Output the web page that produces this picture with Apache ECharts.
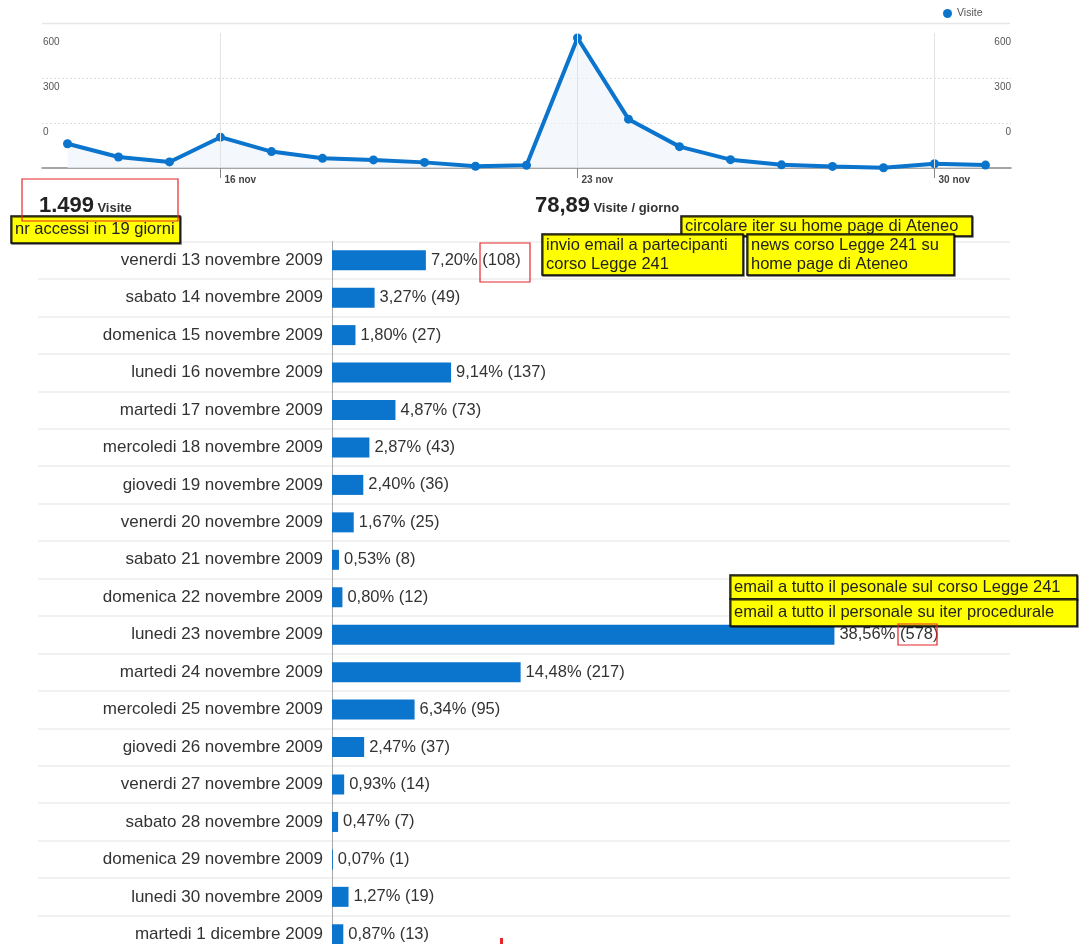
<!DOCTYPE html>
<html>
<head>
<meta charset="utf-8">
<script src="https://cdn.jsdelivr.net/npm/echarts@6/dist/echarts.min.js"></script>
<style>
  html, body { margin: 0; padding: 0; background: #fff; }
  #chart { width: 1082px; height: 944px; }
</style>
</head>
<body>
<div id="chart"></div>
<script>
  // giorni e visite (13 nov - 1 dic 2009)
  const days = [
    'venerdi 13 novembre 2009', 'sabato 14 novembre 2009', 'domenica 15 novembre 2009',
    'lunedi 16 novembre 2009', 'martedi 17 novembre 2009', 'mercoledi 18 novembre 2009',
    'giovedi 19 novembre 2009', 'venerdi 20 novembre 2009', 'sabato 21 novembre 2009',
    'domenica 22 novembre 2009', 'lunedi 23 novembre 2009', 'martedi 24 novembre 2009',
    'mercoledi 25 novembre 2009', 'giovedi 26 novembre 2009', 'venerdi 27 novembre 2009',
    'sabato 28 novembre 2009', 'domenica 29 novembre 2009', 'lunedi 30 novembre 2009',
    'martedi 1 dicembre 2009'
  ];
  const shortDays = ['13 nov', '14 nov', '15 nov', '16 nov', '17 nov', '18 nov', '19 nov',
    '20 nov', '21 nov', '22 nov', '23 nov', '24 nov', '25 nov', '26 nov', '27 nov',
    '28 nov', '29 nov', '30 nov', '1 dic'];
  const visits = [108, 49, 27, 137, 73, 43, 36, 25, 8, 12, 578, 217, 95, 37, 14, 7, 1, 19, 13];
  const shownDays = [3, 10, 17];
  // etichette asse y come appaiono nel grafico (sfasate rispetto alle linee)
  const yTickValues = [200, 400, 600];
  const yTickLabels = ['0', '300', '600'];

  const total = visits.reduce((a, b) => a + b, 0);
  const BLUE = '#0b74cc';
  const FONT = '"Liberation Sans", Arial, sans-serif';

  function yLabel(v) {
    const i = yTickValues.indexOf(v);
    return i < 0 ? '' : yTickLabels[i];
  }

  function note(x, y, w, h, lines) {
    return {
      type: 'group', x: x, y: y,
      children: [
        {type: 'rect', z: 100, shape: {x: 0, y: 0, width: w, height: h},
          style: {fill: '#ffff00', stroke: '#111', lineWidth: 1.5,
            shadowColor: 'rgba(0,0,0,0.6)', shadowOffsetX: 1, shadowOffsetY: 1}},
        {type: 'text', z: 101, x: 4, y: h / 2,
          style: {text: lines.join('\n'), fontSize: 16.5, fontFamily: FONT,
            fill: '#222', verticalAlign: 'middle', lineHeight: 19}}
      ]
    };
  }

  function redBox(x, y, w, h) {
    return {type: 'rect', z: 102, shape: {x: x, y: y, width: w, height: h},
      style: {fill: 'none', stroke: '#e8262a', lineWidth: 1.2}};
  }

  const chart = echarts.init(document.getElementById('chart'));

  const option = {
    animation: false,
    textStyle: {fontFamily: FONT},
    legend: {
      data: ['Visite'], left: 938, top: 3, icon: 'circle',
      itemWidth: 9, itemHeight: 9, itemGap: 6,
      textStyle: {fontSize: 10.5, color: '#555'}
    },
    grid: [
      {left: 42, right: 71, top: 33, bottom: 776, outerBoundsMode: 'none'},
      {left: 332, top: 241.5, width: 678, height: 711.5, outerBoundsMode: 'none'},
      {left: 38, top: 241.5, width: 972, height: 711.5, outerBoundsMode: 'none'}
    ],
    xAxis: [
      {
        gridIndex: 0, type: 'category', data: shortDays, boundaryGap: true,
        axisLine: {lineStyle: {color: '#888', width: 1.5}},
        axisTick: {show: true, alignWithLabel: true, length: 10,
          interval: (i) => shownDays.includes(i), lineStyle: {color: '#888'}},
        axisLabel: {interval: (i) => shownDays.includes(i), align: 'left', margin: 7,
          padding: [0, 0, 0, 4], fontSize: 10, fontWeight: 'bold', color: '#444'},
        splitLine: {show: false}
      },
      {
        gridIndex: 1, type: 'value', min: 0, max: 780,
        axisLine: {show: false}, axisTick: {show: false},
        axisLabel: {show: false}, splitLine: {show: false}
      },
      {
        gridIndex: 2, type: 'value', min: 0, max: 1,
        axisLine: {show: false}, axisTick: {show: false},
        axisLabel: {show: false}, splitLine: {show: false}
      }
    ],
    yAxis: [
      {
        gridIndex: 0, type: 'value', min: 0, max: 600, interval: 200,
        axisLine: {show: false}, axisTick: {show: false},
        axisLabel: {inside: true, margin: 1, verticalAlign: 'top', padding: [4, 0, 0, 0],
          fontSize: 10, color: '#555', formatter: yLabel},
        splitLine: {lineStyle: {color: ['transparent', '#ddd', '#ddd', 'transparent'], type: [2, 2]}}
      },
      {
        gridIndex: 0, type: 'value', min: 0, max: 600, interval: 200, position: 'right',
        axisLine: {show: false}, axisTick: {show: false},
        axisLabel: {inside: true, margin: 0, verticalAlign: 'top', padding: [4, 0, 0, 0],
          fontSize: 10, color: '#555', formatter: yLabel},
        splitLine: {show: false}
      },
      {
        gridIndex: 1, type: 'category', data: days, inverse: true,
        axisLine: {show: true, lineStyle: {color: '#aaa', width: 1}},
        axisTick: {show: false},
        axisLabel: {fontSize: 17, color: '#333', margin: 9},
        splitLine: {show: false}
      },
      {
        gridIndex: 2, type: 'category', data: days, inverse: true,
        axisLine: {show: false}, axisTick: {show: false},
        axisLabel: {show: false},
        splitLine: {show: true, lineStyle: {color: '#ececec', width: 1.5}}
      }
    ],
    series: [
      {
        name: 'Visite', type: 'line', xAxisIndex: 0, yAxisIndex: 0,
        data: visits, symbol: 'circle', symbolSize: 9,
        lineStyle: {color: BLUE, width: 4},
        itemStyle: {color: BLUE},
        areaStyle: {color: '#eff5fb'},
        markLine: {
          silent: true, symbol: 'none', label: {show: false},
          lineStyle: {color: '#e3e3e3', type: 'solid', width: 1},
          data: shownDays.map((i) => ({xAxis: i}))
        },
        z: 3
      },
      {
        name: 'giorni', type: 'bar', xAxisIndex: 1, yAxisIndex: 2,
        data: visits, barWidth: 20,
        itemStyle: {color: BLUE},
        label: {
          show: true, position: 'right', distance: 5, fontSize: 16.5, color: '#333',
          formatter: (p) => (p.value / total * 100).toFixed(2).replace('.', ',') + '% (' + p.value + ')'
        }
      }
    ],
    graphic: [
      {type: 'line', shape: {x1: 42, y1: 23.5, x2: 1010, y2: 23.5},
        style: {stroke: '#e6e6e6', lineWidth: 1.5}},
      {type: 'text', x: 39, y: 206, style: {
        text: '{n|1.499} {u|Visite}', verticalAlign: 'middle',
        rich: {n: {fontSize: 22, fontWeight: 'bold', fill: '#222', fontFamily: FONT},
          u: {fontSize: 13, fontWeight: 'bold', fill: '#333', fontFamily: FONT, padding: [5, 0, 0, 0]}}}},
      {type: 'text', x: 535, y: 206, style: {
        text: '{n|78,89} {u|Visite / giorno}', verticalAlign: 'middle',
        rich: {n: {fontSize: 22, fontWeight: 'bold', fill: '#222', fontFamily: FONT},
          u: {fontSize: 13, fontWeight: 'bold', fill: '#333', fontFamily: FONT, padding: [5, 0, 0, 0]}}}},
      redBox(22, 179, 156, 42),
      note(11, 216, 169, 27, ['nr accessi in 19 giorni']),
      redBox(480, 243, 50, 39),
      note(681, 216, 291, 20, ['circolare iter su home page di Ateneo']),
      note(542, 234, 201, 41, ['invio email a partecipanti', 'corso Legge 241']),
      note(747, 234, 207, 41, ['news corso Legge 241 su', 'home page di Ateneo']),
      note(730, 575, 347, 24, ['email a tutto il pesonale sul corso Legge 241']),
      note(730, 599, 347, 27, ['email a tutto il personale su iter procedurale']),
      redBox(898, 624, 39, 21),
      {type: 'rect', z: 102, shape: {x: 500, y: 938, width: 3, height: 6}, style: {fill: '#e8262a'}}
    ]
  };

  chart.setOption(option);
</script>
</body>
</html>
